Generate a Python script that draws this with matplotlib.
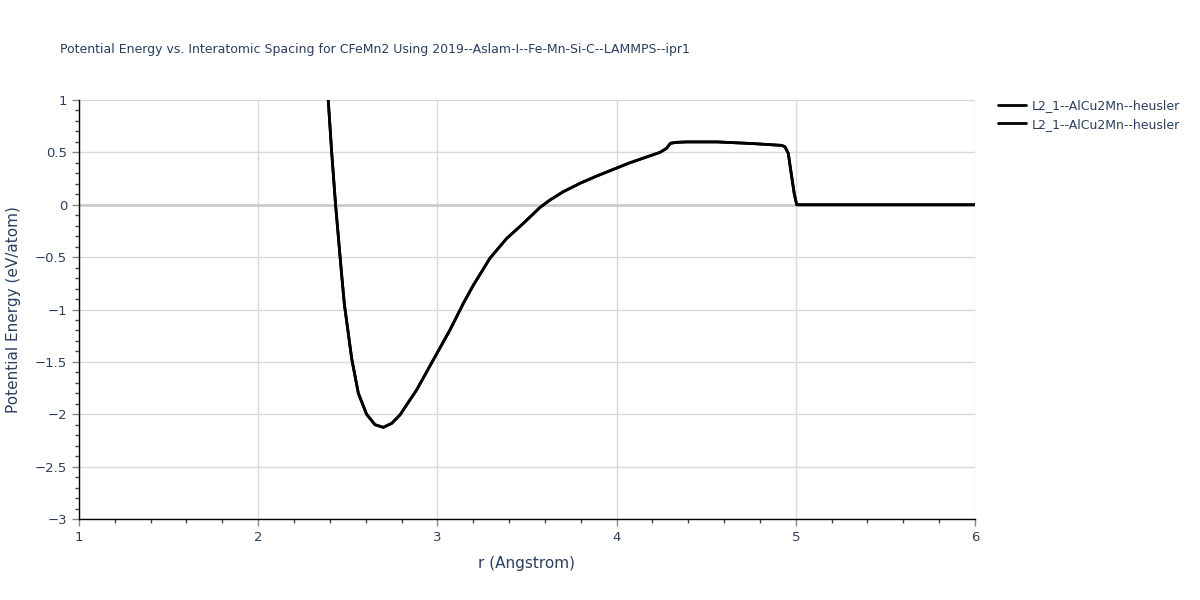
import matplotlib
matplotlib.use("Agg")
import matplotlib.pyplot as plt
from matplotlib.ticker import MultipleLocator, FuncFormatter

# r (Angstrom) and potential energy (eV/atom)
r_vals = [2.391, 2.410, 2.432, 2.466, 2.481, 2.522, 2.559, 2.605, 2.652, 2.698,
          2.745, 2.791, 2.884, 2.977, 3.070, 3.145, 3.200, 3.293, 3.387, 3.480,
          3.573, 3.628, 3.703, 3.796, 3.889, 3.982, 4.065, 4.13, 4.242, 4.279,
          4.30, 4.336, 4.39, 4.56, 4.75, 4.92, 4.940, 4.958, 4.977, 4.991,
          5.005, 5.5, 6.0]
energy = [1.0, 0.506, -0.002, -0.671, -0.95, -1.47, -1.80, -2.0, -2.10, -2.125,
          -2.087, -2.007, -1.768, -1.482, -1.196, -0.941, -0.77, -0.511, -0.321, -0.177,
          -0.025, 0.045, 0.125, 0.205, 0.274, 0.338, 0.395, 0.434, 0.50, 0.539,
          0.587, 0.596, 0.60, 0.60, 0.585, 0.567, 0.554, 0.491, 0.27, 0.109,
          0.0, 0.0, 0.0]
series_labels = ["L2_1--AlCu2Mn--heusler", "L2_1--AlCu2Mn--heusler"]

TEXT = "#2a3f5f"
GRID = "#d9d9d9"

plt.rcParams["font.family"] = ["DejaVu Sans"]


def fmt_tick(v, pos):
    s = f"{v:g}"
    return s.replace("-", "\u2212")


fig = plt.figure(figsize=(12, 6), dpi=100)
ax = fig.add_axes([0.0658, 0.135, 0.8125 - 0.0658, 0.8333 - 0.135])

for lab in series_labels:
    ax.plot(r_vals, energy, color="black", lw=2, label=lab,
            solid_joinstyle="round", solid_capstyle="round")

ax.set_xlim(1, 6)
ax.set_ylim(-3, 1)
ax.xaxis.set_major_locator(MultipleLocator(1))
ax.xaxis.set_minor_locator(MultipleLocator(0.2))
ax.yaxis.set_major_locator(MultipleLocator(0.5))
ax.yaxis.set_minor_locator(MultipleLocator(0.1))
ax.xaxis.set_major_formatter(FuncFormatter(fmt_tick))
ax.yaxis.set_major_formatter(FuncFormatter(fmt_tick))

ax.grid(True, which="major", color=GRID, lw=1)
ax.axhline(0, color="#cccccc", lw=2, zorder=1)
ax.set_axisbelow(True)

for side in ["top", "right"]:
    ax.spines[side].set_visible(False)
for side in ["left", "bottom"]:
    ax.spines[side].set_color("black")
    ax.spines[side].set_linewidth(1)

ax.tick_params(which="major", direction="out", length=5, color="#888888",
               labelcolor=TEXT, labelsize=9.5, width=1)
ax.tick_params(which="minor", direction="out", length=3, color="#444444", width=1)

ax.set_xlabel("r (Angstrom)", color=TEXT, fontsize=11, labelpad=9)
ax.set_ylabel("Potential Energy (eV/atom)", color=TEXT, fontsize=11, labelpad=10)

fig.text(0.05, 0.918, "Potential Energy vs. Interatomic Spacing for CFeMn2 Using "
         "2019--Aslam-I--Fe-Mn-Si-C--LAMMPS--ipr1", color=TEXT, fontsize=9,
         ha="left", va="center")

leg = fig.legend(loc="upper left", bbox_to_anchor=(0.832, 0.835), frameon=False,
                 fontsize=9, labelcolor=TEXT, handlelength=2.2, handletextpad=0.5,
                 borderaxespad=0, borderpad=0, labelspacing=0.45)

fig.savefig("out.png", dpi=100)
